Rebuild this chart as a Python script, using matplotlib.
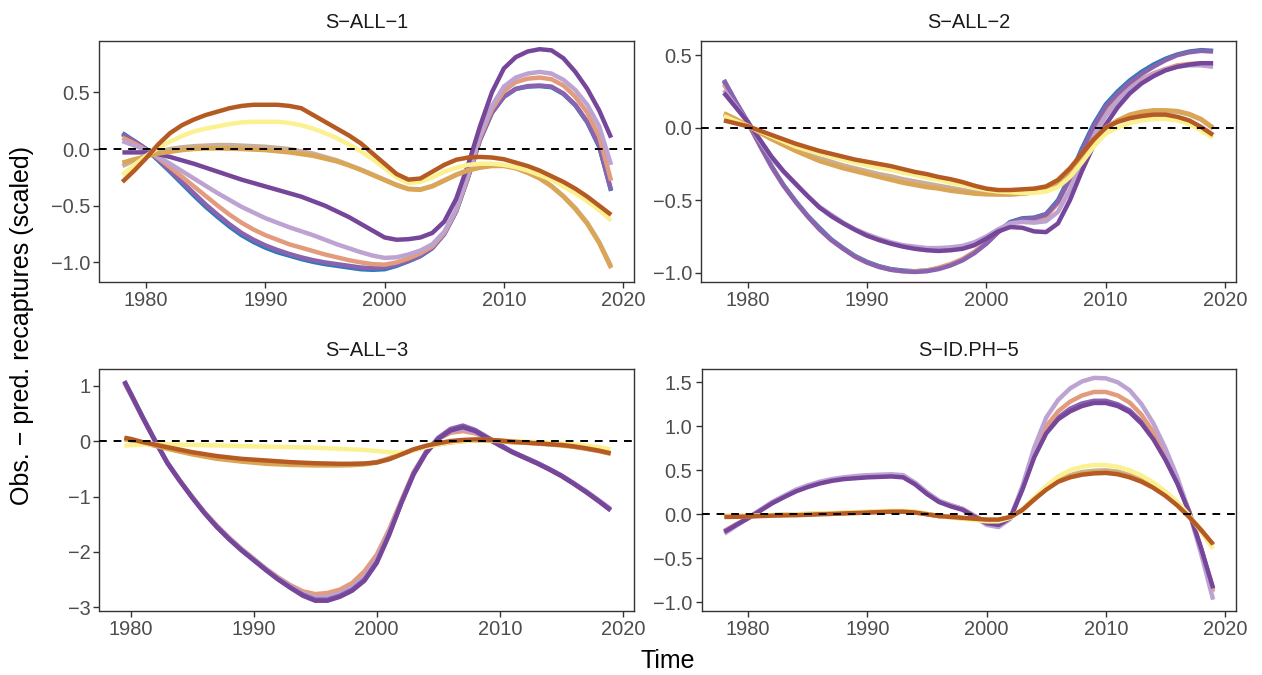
import matplotlib
matplotlib.use("Agg")
import matplotlib.pyplot as plt

plt.rcParams['font.family'] = ['Liberation Sans', 'DejaVu Sans']

# x positions (years) of the smoothed curves
years = list(range(1978, 2020))
years3 = [1979.5] + list(range(1980, 2020))

titles = ["S\u2212ALL\u22121", "S\u2212ALL\u22122", "S\u2212ALL\u22123", "S\u2212ID.PH\u22125"]

# ---- S-ALL-1 (1978..2019)
p1_blue = [0.14, 0.07, 0.0, -0.1, -0.2, -0.305, -0.41, -0.51, -0.60, -0.685,
           -0.76, -0.82, -0.87, -0.91, -0.94, -0.97, -0.995, -1.015, -1.03, -1.045,
           -1.06, -1.065, -1.06, -1.03, -0.99, -0.945, -0.875, -0.75, -0.55, -0.25,
           0.08, 0.32, 0.46, 0.53, 0.55, 0.555, 0.545, 0.485, 0.385, 0.235,
           0.02, -0.37]
p1_purple_mid = [0.13, 0.07, 0.0, -0.09, -0.19, -0.29, -0.39, -0.49, -0.58, -0.665,
                 -0.74, -0.80, -0.85, -0.89, -0.925, -0.955, -0.98, -1.0, -1.015, -1.03,
                 -1.045, -1.05, -1.045, -1.02, -0.985, -0.94, -0.87, -0.75, -0.55, -0.25,
                 0.08, 0.32, 0.46, 0.53, 0.555, 0.56, 0.55, 0.49, 0.39, 0.24,
                 0.03, -0.365]
p1_salmon = [0.10, 0.05, -0.01, -0.08, -0.16, -0.245, -0.33, -0.415, -0.50, -0.58,
             -0.65, -0.71, -0.76, -0.80, -0.84, -0.87, -0.90, -0.93, -0.955, -0.98,
             -1.0, -1.015, -1.02, -1.0, -0.965, -0.92, -0.86, -0.74, -0.54, -0.24,
             0.10, 0.35, 0.51, 0.59, 0.62, 0.63, 0.615, 0.56, 0.46, 0.32,
             0.11, -0.28]
p1_lilac = [0.07, 0.03, -0.01, -0.07, -0.13, -0.195, -0.26, -0.325, -0.39, -0.45,
            -0.51, -0.56, -0.61, -0.65, -0.69, -0.725, -0.76, -0.80, -0.84, -0.875,
            -0.91, -0.94, -0.96, -0.955, -0.93, -0.895, -0.84, -0.73, -0.53, -0.22,
            0.12, 0.38, 0.55, 0.63, 0.665, 0.68, 0.665, 0.61, 0.52, 0.39,
            0.20, -0.14]
p1_purple_dark = [-0.03, -0.03, -0.03, -0.045, -0.07, -0.10, -0.13, -0.165, -0.20, -0.235,
                  -0.27, -0.30, -0.33, -0.36, -0.39, -0.42, -0.46, -0.50, -0.55, -0.60,
                  -0.66, -0.72, -0.78, -0.80, -0.795, -0.78, -0.74, -0.64, -0.44, -0.14,
                  0.20, 0.50, 0.71, 0.81, 0.86, 0.88, 0.87, 0.80, 0.68, 0.53,
                  0.34, 0.10]
p1_tan = [-0.15, -0.10, -0.06, -0.025, 0.0, 0.015, 0.025, 0.03, 0.035, 0.035,
          0.03, 0.025, 0.02, 0.01, 0.0, -0.02, -0.04, -0.07, -0.10, -0.14,
          -0.18, -0.225, -0.27, -0.315, -0.35, -0.355, -0.325, -0.275, -0.225, -0.185,
          -0.16, -0.145, -0.145, -0.165, -0.205, -0.255, -0.325, -0.415, -0.52, -0.65,
          -0.82, -1.035]
p1_gold = [-0.12, -0.09, -0.065, -0.04, -0.025, -0.01, 0.0, 0.005, 0.005, 0.003,
           0.0, -0.005, -0.01, -0.02, -0.03, -0.045, -0.06, -0.085, -0.11, -0.145,
           -0.185, -0.23, -0.275, -0.32, -0.355, -0.36, -0.33, -0.28, -0.23, -0.19,
           -0.165, -0.15, -0.15, -0.17, -0.21, -0.26, -0.33, -0.42, -0.53, -0.66,
           -0.83, -1.05]
p1_yellow = [-0.23, -0.14, -0.06, 0.01, 0.065, 0.115, 0.155, 0.18, 0.20, 0.22,
             0.235, 0.24, 0.24, 0.24, 0.23, 0.21, 0.18, 0.14, 0.095, 0.04,
             -0.02, -0.09, -0.17, -0.25, -0.30, -0.29, -0.25, -0.20, -0.165, -0.14,
             -0.13, -0.13, -0.14, -0.16, -0.19, -0.23, -0.27, -0.33, -0.39, -0.46,
             -0.54, -0.63]
p1_orange = [-0.29, -0.19, -0.08, 0.04, 0.14, 0.21, 0.26, 0.30, 0.33, 0.36,
             0.38, 0.39, 0.39, 0.39, 0.38, 0.36, 0.30, 0.24, 0.18, 0.12,
             0.05, -0.04, -0.13, -0.22, -0.27, -0.26, -0.20, -0.14, -0.095, -0.075,
             -0.07, -0.075, -0.09, -0.12, -0.15, -0.19, -0.24, -0.29, -0.35, -0.42,
             -0.50, -0.58]

# ---- S-ALL-2 (1978..2019)
p2_blue = [0.32, 0.175, 0.04, -0.115, -0.265, -0.395, -0.505, -0.605, -0.69, -0.77,
           -0.83, -0.885, -0.925, -0.955, -0.975, -0.985, -0.99, -0.985, -0.97, -0.945,
           -0.91, -0.86, -0.795, -0.715, -0.65, -0.625, -0.62, -0.595, -0.50, -0.335,
           -0.145, 0.025, 0.16, 0.25, 0.325, 0.385, 0.435, 0.475, 0.505, 0.525,
           0.535, 0.53]
p2_purple_mid = [0.33, 0.18, 0.04, -0.12, -0.27, -0.40, -0.51, -0.61, -0.70, -0.775,
                 -0.835, -0.89, -0.93, -0.96, -0.98, -0.99, -0.995, -0.99, -0.975, -0.95,
                 -0.915, -0.865, -0.80, -0.72, -0.655, -0.63, -0.625, -0.60, -0.51, -0.35,
                 -0.16, 0.01, 0.145, 0.235, 0.31, 0.37, 0.42, 0.465, 0.50, 0.52,
                 0.53, 0.525]
p2_salmon = [0.30, 0.165, 0.03, -0.12, -0.27, -0.40, -0.51, -0.61, -0.70, -0.775,
             -0.835, -0.89, -0.93, -0.96, -0.98, -0.99, -0.99, -0.985, -0.965, -0.94,
             -0.905, -0.855, -0.795, -0.72, -0.66, -0.64, -0.635, -0.615, -0.52, -0.36,
             -0.17, -0.01, 0.12, 0.21, 0.28, 0.335, 0.375, 0.405, 0.43, 0.44,
             0.445, 0.44]
p2_lilac = [0.26, 0.15, 0.04, -0.09, -0.21, -0.305, -0.39, -0.47, -0.545, -0.60,
            -0.655, -0.70, -0.735, -0.765, -0.79, -0.81, -0.82, -0.83, -0.83, -0.825,
            -0.815, -0.79, -0.75, -0.70, -0.66, -0.65, -0.655, -0.645, -0.58, -0.43,
            -0.24, -0.06, 0.08, 0.185, 0.265, 0.325, 0.37, 0.40, 0.42, 0.43,
            0.43, 0.42]
p2_purple_dark = [0.24, 0.14, 0.04, -0.08, -0.20, -0.30, -0.385, -0.47, -0.55, -0.61,
                  -0.66, -0.705, -0.745, -0.775, -0.80, -0.82, -0.835, -0.845, -0.85, -0.845,
                  -0.835, -0.81, -0.765, -0.715, -0.685, -0.69, -0.715, -0.72, -0.66, -0.50,
                  -0.30, -0.12, 0.02, 0.14, 0.235, 0.305, 0.355, 0.395, 0.42, 0.435,
                  0.445, 0.445]
p2_tan = [0.09, 0.05, 0.015, -0.03, -0.07, -0.11, -0.145, -0.18, -0.21, -0.235,
          -0.26, -0.28, -0.30, -0.32, -0.335, -0.355, -0.37, -0.385, -0.40, -0.415,
          -0.43, -0.445, -0.455, -0.46, -0.46, -0.455, -0.445, -0.425, -0.39, -0.31,
          -0.20, -0.09, 0.0, 0.05, 0.085, 0.105, 0.115, 0.115, 0.11, 0.09,
          0.055, -0.005]
p2_gold = [0.10, 0.06, 0.015, -0.035, -0.08, -0.12, -0.16, -0.195, -0.23, -0.255,
           -0.28, -0.30, -0.32, -0.34, -0.36, -0.38, -0.395, -0.41, -0.42, -0.435,
           -0.445, -0.455, -0.46, -0.46, -0.46, -0.455, -0.445, -0.425, -0.39, -0.31,
           -0.20, -0.09, 0.0, 0.05, 0.09, 0.11, 0.12, 0.12, 0.115, 0.095,
           0.06, 0.0]
p2_yellow = [0.08, 0.045, 0.01, -0.025, -0.06, -0.095, -0.13, -0.155, -0.18, -0.20,
             -0.22, -0.24, -0.26, -0.275, -0.29, -0.31, -0.325, -0.345, -0.36, -0.38,
             -0.395, -0.415, -0.43, -0.44, -0.445, -0.45, -0.45, -0.44, -0.41, -0.34,
             -0.24, -0.13, -0.04, 0.0, 0.03, 0.05, 0.06, 0.06, 0.05, 0.025,
             -0.02, -0.07]
p2_orange = [0.05, 0.03, 0.01, -0.02, -0.05, -0.08, -0.11, -0.135, -0.16, -0.18,
             -0.20, -0.22, -0.235, -0.25, -0.265, -0.285, -0.305, -0.32, -0.34, -0.355,
             -0.375, -0.40, -0.42, -0.43, -0.43, -0.425, -0.42, -0.405, -0.36, -0.28,
             -0.18, -0.08, 0.0, 0.04, 0.065, 0.08, 0.09, 0.09, 0.075, 0.05,
             0.005, -0.05]

# ---- S-ALL-3 (1979.5, 1980..2019)
p3_salmon = [1.05, 0.84, 0.41, 0.0, -0.39, -0.71, -1.0, -1.28, -1.52, -1.74,
             -1.94, -2.12, -2.3, -2.46, -2.6, -2.71, -2.76, -2.74, -2.68, -2.56,
             -2.35, -2.05, -1.6, -1.07, -0.56, -0.2, 0.04, 0.15, 0.18, 0.14,
             0.04, -0.08, -0.2, -0.3, -0.4, -0.51, -0.63, -0.77, -0.92, -1.08,
             -1.24]
p3_lilac = [1.06, 0.85, 0.42, 0.0, -0.40, -0.72, -1.01, -1.29, -1.53, -1.75,
            -1.95, -2.13, -2.31, -2.48, -2.62, -2.75, -2.82, -2.81, -2.75, -2.64,
            -2.45, -2.13, -1.65, -1.1, -0.58, -0.21, 0.05, 0.18, 0.22, 0.16,
            0.04, -0.08, -0.19, -0.29, -0.39, -0.5, -0.62, -0.76, -0.9, -1.06,
            -1.22]
p3_purple_mid = [1.08, 0.87, 0.43, 0.01, -0.39, -0.71, -1.01, -1.29, -1.54, -1.76,
                 -1.96, -2.14, -2.32, -2.49, -2.64, -2.77, -2.86, -2.86, -2.79, -2.68,
                 -2.5, -2.18, -1.68, -1.11, -0.58, -0.2, 0.06, 0.22, 0.28, 0.2,
                 0.07, -0.06, -0.19, -0.29, -0.39, -0.5, -0.62, -0.76, -0.91, -1.07,
                 -1.24]
p3_purple_dark = [1.08, 0.86, 0.42, 0.0, -0.40, -0.72, -1.02, -1.30, -1.55, -1.77,
                  -1.97, -2.15, -2.33, -2.50, -2.65, -2.79, -2.88, -2.88, -2.81, -2.70,
                  -2.52, -2.2, -1.7, -1.12, -0.6, -0.22, 0.04, 0.19, 0.25, 0.18,
                  0.05, -0.08, -0.2, -0.3, -0.4, -0.51, -0.63, -0.77, -0.92, -1.08,
                  -1.25]
p3_tan = [0.03, 0.015, -0.03, -0.08, -0.13, -0.175, -0.22, -0.26, -0.30, -0.325,
          -0.35, -0.37, -0.39, -0.40, -0.41, -0.415, -0.42, -0.42, -0.42, -0.415,
          -0.41, -0.38, -0.31, -0.23, -0.15, -0.095, -0.05, -0.02, 0.01, 0.015,
          0.01, 0.0, -0.02, -0.03, -0.04, -0.055, -0.07, -0.095, -0.13, -0.17,
          -0.22]
p3_gold = [0.04, 0.02, -0.03, -0.085, -0.14, -0.19, -0.24, -0.28, -0.32, -0.345,
           -0.37, -0.39, -0.41, -0.42, -0.43, -0.435, -0.44, -0.44, -0.44, -0.435,
           -0.42, -0.39, -0.32, -0.24, -0.16, -0.1, -0.06, -0.025, 0.0, 0.01,
           0.01, 0.0, -0.02, -0.03, -0.045, -0.06, -0.08, -0.105, -0.14, -0.18,
           -0.23]
p3_yellow = [-0.08, -0.075, -0.065, -0.06, -0.06, -0.065, -0.07, -0.075, -0.08, -0.085,
             -0.09, -0.095, -0.1, -0.105, -0.11, -0.115, -0.12, -0.13, -0.14, -0.15,
             -0.16, -0.18, -0.2, -0.21, -0.17, -0.11, -0.06, -0.02, 0.0, 0.015,
             0.02, 0.01, 0.0, -0.01, -0.02, -0.03, -0.04, -0.06, -0.08, -0.11,
             -0.15]
p3_orange = [0.06, 0.04, -0.02, -0.065, -0.11, -0.155, -0.2, -0.235, -0.27, -0.295,
             -0.32, -0.335, -0.35, -0.365, -0.38, -0.39, -0.40, -0.405, -0.41, -0.41,
             -0.405, -0.385, -0.33, -0.24, -0.15, -0.085, -0.04, 0.0, 0.02, 0.03,
             0.025, 0.01, -0.01, -0.025, -0.04, -0.055, -0.07, -0.095, -0.13, -0.17,
             -0.22]

# ---- S-ID.PH-5 (1978..2019)
p4_purple_mid = [-0.19, -0.115, -0.04, 0.045, 0.13, 0.2, 0.27, 0.32, 0.36, 0.39,
                 0.41, 0.42, 0.43, 0.435, 0.44, 0.43, 0.35, 0.24, 0.15, 0.1,
                 0.06, -0.02, -0.09, -0.11, -0.035, 0.29, 0.67, 0.95, 1.1, 1.2,
                 1.26, 1.29, 1.29, 1.25, 1.18, 1.05, 0.87, 0.63, 0.36, 0.03,
                 -0.39, -0.85]
p4_salmon = [-0.19, -0.115, -0.04, 0.045, 0.13, 0.2, 0.27, 0.32, 0.36, 0.39,
             0.41, 0.42, 0.43, 0.435, 0.44, 0.43, 0.35, 0.24, 0.15, 0.1,
             0.06, -0.02, -0.09, -0.11, -0.035, 0.3, 0.7, 1.0, 1.17, 1.28,
             1.35, 1.39, 1.39, 1.35, 1.27, 1.13, 0.93, 0.68, 0.38, 0.03,
             -0.4, -0.88]
p4_lilac = [-0.22, -0.13, -0.04, 0.05, 0.14, 0.21, 0.28, 0.33, 0.37, 0.4,
            0.42, 0.435, 0.445, 0.45, 0.455, 0.445, 0.36, 0.25, 0.155, 0.105,
            0.06, -0.03, -0.12, -0.145, -0.05, 0.32, 0.76, 1.1, 1.3, 1.43,
            1.51, 1.55, 1.545, 1.5, 1.41, 1.25, 1.03, 0.75, 0.42, 0.02,
            -0.45, -0.97]
p4_purple_dark = [-0.2, -0.12, -0.045, 0.04, 0.125, 0.195, 0.26, 0.31, 0.35, 0.38,
                  0.40, 0.41, 0.42, 0.425, 0.43, 0.42, 0.34, 0.23, 0.14, 0.09,
                  0.05, -0.03, -0.10, -0.12, -0.04, 0.28, 0.65, 0.92, 1.08, 1.17,
                  1.23, 1.265, 1.265, 1.23, 1.16, 1.03, 0.85, 0.62, 0.35, 0.02,
                  -0.39, -0.84]
p4_tan = [-0.02, -0.02, -0.02, -0.015, -0.01, -0.005, 0.0, 0.003, 0.007, 0.01,
          0.015, 0.02, 0.025, 0.03, 0.035, 0.035, 0.025, 0.003, -0.02, -0.03,
          -0.045, -0.055, -0.065, -0.065, -0.03, 0.05, 0.17, 0.29, 0.39, 0.445,
          0.48, 0.495, 0.5, 0.485, 0.445, 0.39, 0.32, 0.225, 0.11, -0.03,
          -0.18, -0.35]
p4_gold = [-0.02, -0.02, -0.02, -0.015, -0.01, -0.005, 0.0, 0.003, 0.007, 0.01,
           0.015, 0.02, 0.025, 0.03, 0.035, 0.035, 0.025, 0.003, -0.02, -0.03,
           -0.045, -0.055, -0.07, -0.07, -0.03, 0.05, 0.17, 0.29, 0.38, 0.43,
           0.46, 0.475, 0.48, 0.465, 0.43, 0.38, 0.31, 0.22, 0.11, -0.03,
           -0.18, -0.35]
p4_yellow = [-0.02, -0.02, -0.02, -0.015, -0.01, -0.005, 0.0, 0.005, 0.01, 0.015,
             0.02, 0.025, 0.03, 0.035, 0.04, 0.04, 0.03, 0.005, -0.02, -0.035,
             -0.05, -0.065, -0.08, -0.08, -0.04, 0.06, 0.19, 0.32, 0.43, 0.5,
             0.54, 0.56, 0.56, 0.54, 0.5, 0.44, 0.36, 0.26, 0.14, -0.01,
             -0.2, -0.39]
p4_orange = [-0.03, -0.028, -0.025, -0.02, -0.015, -0.012, -0.01, -0.005, 0.0, 0.005,
             0.01, 0.015, 0.02, 0.025, 0.03, 0.03, 0.02, 0.0, -0.02, -0.03,
             -0.04, -0.05, -0.06, -0.06, -0.03, 0.05, 0.17, 0.28, 0.37, 0.42,
             0.45, 0.465, 0.47, 0.455, 0.42, 0.37, 0.3, 0.21, 0.1, -0.03,
             -0.18, -0.34]

colors = {
    'blue': '#2b7bba',
    'purple_mid': '#8a63b0',
    'salmon': '#e29b7d',
    'lilac': '#bda3d2',
    'purple_dark': '#76469a',
    'tan': '#c9ae98',
    'gold': '#daa555',
    'yellow': '#fbf191',
    'orange': '#b65a23',
}

panels = [
    (years, [('blue', p1_blue), ('purple_mid', p1_purple_mid), ('salmon', p1_salmon),
             ('lilac', p1_lilac), ('purple_dark', p1_purple_dark), ('tan', p1_tan),
             ('gold', p1_gold), ('yellow', p1_yellow), ('orange', p1_orange)]),
    (years, [('blue', p2_blue), ('salmon', p2_salmon), ('purple_mid', p2_purple_mid),
             ('lilac', p2_lilac), ('purple_dark', p2_purple_dark), ('tan', p2_tan),
             ('gold', p2_gold), ('yellow', p2_yellow), ('orange', p2_orange)]),
    (years3, [('salmon', p3_salmon), ('lilac', p3_lilac), ('purple_mid', p3_purple_mid),
              ('purple_dark', p3_purple_dark), ('tan', p3_tan), ('gold', p3_gold),
              ('yellow', p3_yellow), ('orange', p3_orange)]),
    (years, [('purple_mid', p4_purple_mid), ('salmon', p4_salmon), ('lilac', p4_lilac),
             ('purple_dark', p4_purple_dark), ('tan', p4_tan), ('gold', p4_gold),
             ('yellow', p4_yellow), ('orange', p4_orange)]),
]

# layout (pixels: left, top, right, bottom) and axis limits
W, H = 1262, 675
boxes = [(99.5, 40.7, 634, 281.7), (701, 40.7, 1236, 281.7),
         (99.5, 369, 634, 610.7), (701.5, 369, 1236, 610.7)]
xlims = [(1976.08, 2020.92), (1976.08, 2020.92), (1977.48, 2020.9), (1976.08, 2020.92)]
ylims = [(-1.17, 0.955), (-1.062, 0.60), (-3.06, 1.30), (-1.095, 1.651)]
yticks = [[-1.0, -0.5, 0.0, 0.5], [-1.0, -0.5, 0.0, 0.5], [-3, -2, -1, 0, 1],
          [-1.0, -0.5, 0.0, 0.5, 1.0, 1.5]]
xticks = [1980, 1990, 2000, 2010, 2020]

fig = plt.figure(figsize=(W / 100, H / 100), dpi=100)

for i, (box, (xs, series)) in enumerate(zip(boxes, panels)):
    l, t, r, b = box
    ax = fig.add_axes([l / W, (H - b) / H, (r - l) / W, (b - t) / H])
    for name, vals in series:
        ax.plot(xs, vals, color=colors[name], lw=3.2, solid_capstyle='butt',
                solid_joinstyle='round')
    ax.axhline(0, color='black', lw=1.4, ls=(0, (4, 3.5)), zorder=5)
    ax.set_xlim(*xlims[i])
    ax.set_ylim(*ylims[i])
    ax.set_xticks(xticks)
    ax.set_xticklabels([str(v) for v in xticks])
    ax.set_yticks(yticks[i])
    if i == 2:
        labs = ['%d' % v for v in yticks[i]]
    else:
        labs = ['%.1f' % v for v in yticks[i]]
    ax.set_yticklabels([s.replace('-', '\u2212') for s in labs])
    ax.tick_params(direction='out', length=4, width=1.0, color='#333333',
                   labelsize=14.4, labelcolor='#4d4d4d', pad=2.5)
    for sp in ax.spines.values():
        sp.set_color('#333333')
        sp.set_linewidth(1.0)
    ax.set_title(titles[i], fontsize=14.4, color='#1a1a1a', pad=9)

fig.text(668 / W, 1 - 660.5 / H, 'Time', ha='center', va='center', fontsize=18)
fig.text(22 / W, 1 - 325.7 / H, 'Obs. \u2212 pred. recaptures (scaled)', ha='center',
         va='center', rotation=90, fontsize=18)

fig.savefig('out.png', dpi=100)
